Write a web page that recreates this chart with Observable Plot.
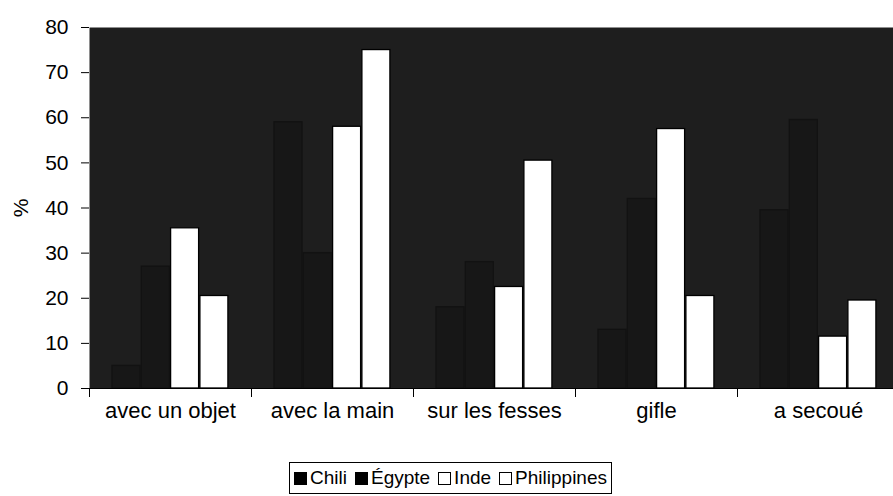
<!DOCTYPE html>
<html><head><meta charset="utf-8">
<script src="https://cdn.jsdelivr.net/npm/d3@7"></script>
<script src="https://cdn.jsdelivr.net/npm/@observablehq/plot@0.6"></script>
<style>
body{margin:0;background:#fff;font-family:"Liberation Sans",Arial,sans-serif;}
#wrap{position:relative;width:893px;height:496px;overflow:hidden;}
#legend{position:absolute;left:289px;top:462px;width:321px;height:30px;border:1px solid #000;display:flex;align-items:center;justify-content:center;font-size:19px;color:#000;white-space:nowrap;}
#legend .item{display:flex;align-items:center;margin:0 4px;}
#legend .sw{display:inline-block;width:11px;height:11px;border:1.5px solid #000;margin-right:3px;}
</style></head><body>
<div id="wrap"><div id="chart"></div><div id="legend"></div></div>
<script>
const categories = ["avec un objet", "avec la main", "sur les fesses", "gifle", "a secoué"];
const countries = ["Chili", "Égypte", "Inde", "Philippines"];
const chili = [5, 59, 18, 13, 39.5];
const egypte = [27, 30, 28, 42, 59.5];
const inde = [35.5, 58, 22.5, 57.5, 11.5];
const philippines = [20.5, 75, 50.5, 20.5, 19.5];
const yTicks = [0, 10, 20, 30, 40, 50, 60, 70, 80];
const fills = ["#171717", "#171717", "#ffffff", "#ffffff"];
const strokes = ["#121212", "#121212", "#000000", "#000000"];

const series = [chili, egypte, inde, philippines];
const W = 893, ML = 89, MR = -6;
const band = (W - ML - MR) / categories.length;
const barW = 28, pitch = 29.3, offset = 23;

const marks = [Plot.frame({fill: "#1e1e1e"})];
series.forEach((vals, i) => {
  const rows = categories.map((c, j) => ({cat: c, value: vals[j], country: countries[i]}));
  const left = offset + i * pitch;
  marks.push(Plot.barY(rows, {
    x: "cat", y: "value", fill: fills[i], stroke: strokes[i], strokeWidth: 1.3,
    insetLeft: left, insetRight: band - left - barW
  }));
});
marks.push(Plot.ruleY([0], {stroke: "#000", strokeWidth: 1.2}));
marks.push(Plot.axisY({ticks: yTicks, tickSize: 8, tickPadding: 13, label: "%", labelAnchor: "center", labelOffset: 76, labelArrow: "none", fontSize: 21}));
marks.push(Plot.axisX({tickSize: 9, tickFormat: () => "", dx: -band / 2, label: null}));
marks.push(Plot.axisX({tickSize: 0, tickPadding: 14, label: null, fontSize: 22}));

const chart = Plot.plot({
  width: W, height: 455,
  marginLeft: ML, marginRight: MR, marginTop: 27, marginBottom: 67,
  style: {fontFamily: "Liberation Sans, Arial, sans-serif", fontSize: "21px", color: "#000", background: "transparent", overflow: "visible"},
  x: {domain: categories, padding: 0},
  y: {domain: [0, 80]},
  marks
});
document.getElementById("chart").appendChild(chart);

const legend = document.getElementById("legend");
countries.forEach((c, i) => {
  const it = document.createElement("span");
  it.className = "item";
  const sw = document.createElement("span");
  sw.className = "sw";
  sw.style.background = i < 2 ? "#000" : "#fff";
  it.appendChild(sw);
  it.appendChild(document.createTextNode(c));
  legend.appendChild(it);
});
</script>
</body></html>
